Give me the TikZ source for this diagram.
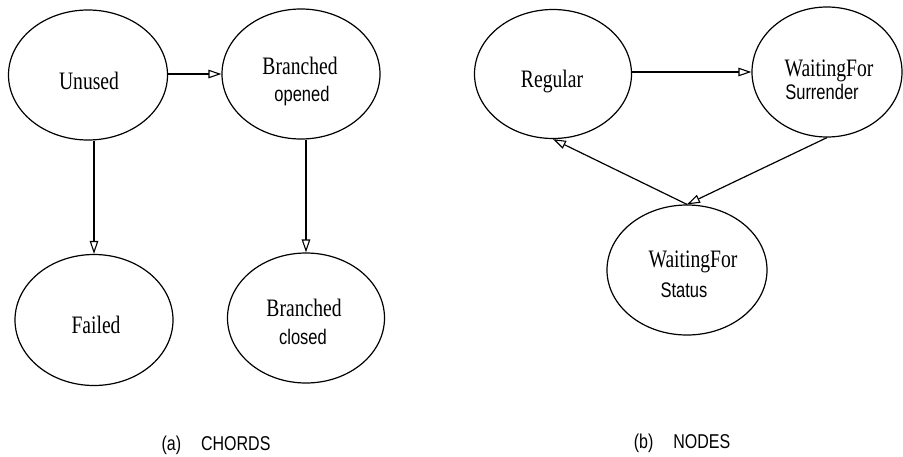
\documentclass[tikz,border=0pt]{standalone}
\usepackage{fontspec}
\setmainfont{Liberation Serif}
\newfontfamily\arialf{Liberation Sans}
\usetikzlibrary{shapes.geometric,arrows.meta}
\newcommand{\sr}[1]{\scalebox{1}[1.28]{\fontsize{19.6}{22}\selectfont #1}}
\newcommand{\sn}[1]{\scalebox{1}[1.28]{\arialf\fontsize{16.5}{19}\selectfont #1}}
\newcommand{\capt}[1]{\scalebox{1}[1.25]{\arialf\fontsize{16}{18}\selectfont #1}}
\tikzset{
  st/.style={draw, ellipse, line width=1.2pt, inner sep=0pt},
  tx/.style={anchor=base, inner sep=0pt},
  arr/.style={line width=1.2pt, -{Triangle[open, length=13pt, width=8.5pt, line width=1.1pt]}},
  captxt/.style={anchor=base, inner sep=0pt}
}
\begin{document}
\begin{tikzpicture}[x=1pt, y=-1pt]
\useasboundingbox[fill=white] (0,0) rectangle (903,456);
% (a) CHORDS
\node[st, minimum width=159pt, minimum height=130pt] (U) at (88,75) {};
\node[st, minimum width=158pt, minimum height=130pt] (BO) at (301,74) {};
\node[st, minimum width=158pt, minimum height=131pt] (F) at (94,320) {};
\node[st, minimum width=157pt, minimum height=130pt] (BC) at (306,318) {};
\node[tx] (tU) at (89,89) {\sr{Unused}};
\node[tx] (tBO1) at (300,74) {\sr{Branched}};
\node[tx] (tBO2) at (302,101) {\sn{opened}};
\node[tx] (tF) at (96,333) {\sr{Failed}};
\node[tx] (tBC1) at (304,316) {\sr{Branched}};
\node[tx] (tBC2) at (303,344) {\sn{closed}};
\draw[arr] (U.east |- BO.west) -- (BO.west);
\draw[arr] (F.north |- U.south) -- (F.north);
\draw[arr] (BC.north |- BO.south) -- (BC.north);
\node[captxt] (ca) at (216,450) {\capt{(a)\hspace{1.25em}CHORDS}};
% (b) NODES
\node[st, minimum width=157pt, minimum height=129pt] (R) at (553,74) {};
\node[st, minimum width=150pt, minimum height=130pt] (S) at (827,72) {};
\node[st, minimum width=160pt, minimum height=130pt] (T) at (687,270) {};
\node[tx] (tR) at (552,87) {\sr{Regular}};
\node[tx] (tS1) at (829,76) {\sr{WaitingFor}};
\node[tx] (tS2) at (822,99) {\sn{Surrender}};
\node[tx] (tT1) at (693,267) {\sr{WaitingFor}};
\node[tx] (tT2) at (684,297) {\sn{Status}};
\draw[arr] (R.east |- S.west) -- (S.west);
\draw[arr] (T.north) -- (R.south);
\draw[arr] (S.south) -- (T.north);
\node[captxt] (cb) at (682,448) {\capt{(b)\hspace{1.25em}NODES}};
\end{tikzpicture}
\end{document}
